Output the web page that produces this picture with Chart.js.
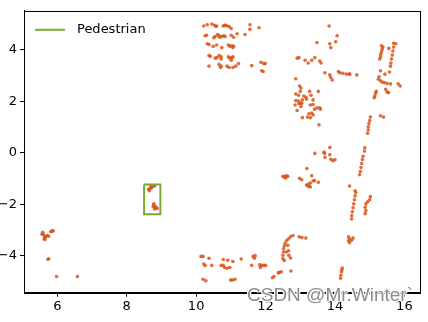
<!DOCTYPE html>
<html><head><meta charset="utf-8">
<script src="https://cdn.jsdelivr.net/npm/chart.js@4.4.1/dist/chart.umd.min.js"></script>
<style>
html,body{margin:0;padding:0;background:#fff;}
#wrap{position:relative;width:428px;height:322px;overflow:hidden;}
#wm{position:absolute;left:247px;top:284px;font:19px "Liberation Sans",Arial,sans-serif;color:#8c8c8c;white-space:nowrap;
text-shadow:-1px -1px 0 #fff,1px -1px 0 #fff,-1px 1px 0 #fff,1px 1px 0 #fff;}
</style></head>
<body><div id="wrap"><canvas id="c" width="428" height="322"></canvas><div id="wm">CSDN @Mr.Winter`</div></div>
<script>
// ---- data ----
const xTicks = [6, 8, 10, 12, 14, 16];
const yTicks = [-4, -2, 0, 2, 4];
const xRange = [5.04, 16.45];
const yRange = [-5.44, 5.51];

const leftCluster = [[5.58,-3.09],[5.60,-3.19],[5.64,-3.25],[5.67,-3.27],[5.71,-3.22],[5.75,-3.25],[5.64,-3.37],[5.62,-3.35],[5.81,-3.07],[5.85,-3.04],[5.88,-3.04],[5.56,-3.17],[5.75,-4.12],[5.73,-4.14],[5.98,-4.81],[6.58,-4.81]];

const pedestrianPts = [[8.63,-1.42],[8.69,-1.32],[8.75,-1.30],[8.65,-1.48],[8.71,-1.37],[8.80,-1.30],[8.67,-1.40],[8.78,-1.99],[8.76,-2.09],[8.82,-2.14],[8.88,-2.17],[8.80,-2.19],[8.78,-2.04],[8.84,-2.10]];

const topCluster = [[10.22,4.92],[10.32,4.97],[10.45,5.0],[10.53,4.95],[10.57,4.90],[10.59,4.92],[10.78,4.92],[10.82,4.95],[10.85,4.95],[10.89,4.92],[10.95,4.90],[11.55,4.97],[11.01,4.82],[11.55,4.79],[11.81,4.85],
[10.26,4.54],[10.30,4.56],[10.51,4.46],[10.55,4.51],[10.62,4.59],[10.66,4.54],[10.68,4.48],[10.74,4.51],[10.80,4.54],[10.83,4.51],[11.01,4.56],[11.08,4.48],[11.18,4.62],[11.41,4.59],
[10.32,4.23],[10.37,4.20],[10.49,4.13],[10.59,4.18],[10.74,4.08],[10.93,4.18],[10.97,4.13],[11.03,4.15],[11.06,4.08],[11.08,4.13],
[10.37,3.77],[10.41,3.74],[10.55,3.67],[10.60,3.69],[10.66,3.77],[10.72,3.72],[10.72,3.64],[10.93,3.72],[10.97,3.67],[11.03,3.69],[11.06,3.72],[11.01,3.59],
[10.37,3.36],[10.66,3.43],[10.72,3.36],[10.70,3.31],[10.89,3.36],[10.95,3.31],[11.06,3.31],[11.14,3.36],[11.22,3.46],[11.60,3.38],[11.87,3.51],[11.95,3.46],[11.99,3.46],[11.93,3.15],[11.89,3.18]];

const midCluster = [[13.83,4.92],[14.06,4.54],[14.02,4.31],[13.85,4.23],[13.88,4.08],[13.48,4.28],
[12.91,3.67],[12.96,3.69],[13.14,3.59],[13.23,3.48],[13.33,3.59],[13.42,3.69],[13.56,3.56],[13.60,3.48],
[13.71,3.10],[13.85,3.02],[13.88,2.92],[13.92,2.82],[14.10,3.15],[14.14,3.10],[14.23,3.08],[14.33,3.05],[14.42,3.05],[12.87,2.87],
[12.98,2.59],[13.02,2.51],[13.00,2.38],[12.87,2.28],[12.95,2.23],[13.10,2.20],[13.16,2.15],[13.27,2.38],[13.31,2.23],[13.52,2.38],
[13.06,2.05],[13.18,2.08],[13.37,2.05],[12.87,2.02],[12.95,2.0],[13.02,1.92],
[12.85,1.85],[12.96,1.90],[13.04,1.92],[13.02,1.79],[12.91,1.64],[13.29,1.85],[13.37,1.87],[13.41,1.69],[13.48,1.74],[13.58,1.69],[13.56,1.74],
[13.25,1.51],[13.33,1.54],[13.37,1.46],[13.29,1.36],[13.21,1.38],[13.06,1.36],[13.54,1.08],
[13.85,0.20],[13.68,0.02],[13.70,-0.03],[13.42,-0.03],[13.85,-0.08],[13.71,-0.18],[13.88,-0.26],[13.94,-0.31],[14.0,-0.28],
[12.50,-0.92],[12.54,-0.95],[12.60,-0.90],[12.64,-0.92],[12.58,-0.98],[12.56,-0.93],
[13.19,-0.62],[12.98,-1.0],[13.04,-1.05],[13.33,-0.90],[13.37,-1.10],[13.41,-1.08],[13.29,-1.18],[13.23,-1.23],[13.23,-1.31],[13.18,-1.26],[13.29,-1.33],[13.52,-1.15]];

const rightCluster = [[14.42,3.05],[14.63,3.02],
[15.34,4.15],[15.38,4.10],[15.36,4.02],[15.34,3.92],[15.32,3.82],[15.31,3.72],[15.29,3.64],[15.55,4.05],
[15.69,4.25],[15.75,4.23],[15.69,4.10],[15.67,3.95],[15.65,3.79],[15.63,3.64],[15.61,3.48],[15.60,3.36],
[15.31,3.18],[15.44,3.05],[15.57,3.13],
[15.27,2.95],[15.25,2.85],[15.31,2.79],[15.36,2.74],[15.42,2.72],[15.50,2.69],[15.60,2.67],[15.82,2.67],[15.88,2.59],
[15.46,2.46],[15.50,2.36],[15.54,2.33],[15.19,2.38],[15.17,2.31],[15.15,2.20],[15.13,2.13],
[15.31,1.43],[15.40,1.38],
[15.02,1.38],[15.0,1.25],[14.98,1.13],[14.96,1.0],[14.96,0.88],[14.94,0.75],
[14.86,0.19],[14.85,0.06],[14.81,-0.14],[14.79,-0.27],[14.77,-0.42],[14.75,-0.58],[14.73,-0.73],[14.71,-0.86],
[14.42,-1.30],[14.58,-1.48],[14.60,-1.55],[14.58,-1.68],[14.56,-1.83],[14.54,-1.99],[14.52,-2.14],[14.50,-2.30],[14.48,-2.45],[14.48,-2.58],
[15.02,-1.71],[15.0,-1.83],[14.94,-1.91],[14.89,-1.99],[14.87,-2.12],[14.89,-2.25],[14.87,-2.37],
[14.39,-3.27],[14.42,-3.35],[14.39,-3.42],[14.42,-3.50],[14.48,-3.40],[14.52,-3.32],
[14.21,-4.48],[14.19,-4.63],[14.17,-4.76],[14.16,-4.88],[14.20,-4.55]];

const bottomCluster = [[12.79,-3.22],[12.72,-3.27],[12.66,-3.35],[12.60,-3.42],[12.56,-3.53],[12.54,-3.63],[12.52,-3.73],[12.52,-3.86],[12.50,-3.99],[12.50,-4.12],[12.54,-4.19],[12.64,-3.60],[12.66,-3.81],[12.67,-3.99],[12.72,-4.09],[12.60,-3.86],
[12.97,-3.27],[13.05,-3.30],[13.16,-3.32],
[12.45,-4.63],[12.39,-4.65],[12.73,-4.60],[12.20,-4.86],[12.24,-4.81],
[10.14,-4.03],[10.20,-4.03],[10.37,-4.10],[10.22,-4.33],[10.26,-4.38],[10.45,-4.38],[10.20,-4.92],[10.28,-4.98],
[10.78,-4.15],[10.91,-4.18],[11.06,-4.23],[10.72,-4.38],[10.78,-4.38],[10.82,-4.46],[10.89,-4.49],[10.97,-4.46],
[10.99,-4.95],[11.05,-4.95],[11.12,-4.92],[11.30,-4.13],[11.64,-4.03],[11.70,-4.00],[11.68,-4.10],
[11.60,-4.38],[11.83,-4.36],[11.89,-4.38],[11.95,-4.38],[12.0,-4.38],[11.85,-4.46],[12.37,-4.67]];

const boxX = [8.50, 8.97, 8.97, 8.50, 8.50];
const boxY = [-1.24, -1.24, -2.39, -2.39, -1.24];
const boxLabel = 'Pedestrian';

// ---- build ----
const allPts = [].concat(leftCluster, pedestrianPts, topCluster, midCluster, rightCluster, bottomCluster)
  .map(p => ({x: p[0], y: p[1]}));
const boxPts = boxX.map((x, i) => ({x: x, y: boxY[i]}));
const GREEN = '#77AC30';
const FONT = {family: '"DejaVu Sans", sans-serif', size: 13};
const minus = v => String(v).replace('-', '\u2212');

const framePlugin = {
  id: 'frame',
  afterDatasetsDraw(chart) {
    const {ctx, chartArea: a} = chart;
    ctx.save();
    ctx.strokeStyle = '#000';
    ctx.lineWidth = 1;
    ctx.strokeRect(Math.round(a.left) + 0.5, Math.round(a.top) + 0.5, Math.round(a.right - a.left), Math.round(a.bottom - a.top));
    // legend
    const ds = chart.data.datasets[0];
    ctx.strokeStyle = ds.borderColor;
    ctx.lineWidth = 2;
    ctx.beginPath();
    ctx.moveTo(a.left + 11, a.top + 19);
    ctx.lineTo(a.left + 41, a.top + 19);
    ctx.stroke();
    ctx.fillStyle = '#000';
    ctx.font = '13px "DejaVu Sans", sans-serif';
    ctx.textBaseline = 'middle';
    ctx.textAlign = 'left';
    ctx.fillText(ds.label, a.left + 53, a.top + 19);
    ctx.restore();
  }
};

new Chart(document.getElementById('c'), {
  type: 'scatter',
  data: {
    datasets: [
      {label: boxLabel, data: boxPts, showLine: true, borderColor: GREEN, backgroundColor: GREEN,
       borderWidth: 2, pointRadius: 0, fill: false, order: 0, tension: 0},
      {label: 'points', data: allPts, backgroundColor: 'rgba(217,83,25,0.85)', borderWidth: 0,
       pointRadius: 1.8, order: 1}
    ]
  },
  options: {
    responsive: false, animation: false, devicePixelRatio: 1,
    layout: {padding: {top: 8, right: 8, left: 0, bottom: 0}},
    plugins: {legend: {display: false}, tooltip: {enabled: false}},
    scales: {
      x: {type: 'linear', position: 'bottom', min: xRange[0], max: xRange[1],
        afterFit(s) { s.height = 29.3; },
        afterBuildTicks(s) { s.ticks = xTicks.map(v => ({value: v})); },
        grid: {drawOnChartArea: false, drawTicks: true, tickLength: 4, color: '#000'},
        border: {display: true, color: '#000', width: 1},
        ticks: {color: '#000', font: FONT, padding: 2, maxRotation: 0, autoSkip: false, callback: v => minus(v)}},
      y: {type: 'linear', position: 'left', min: yRange[0], max: yRange[1],
        afterFit(s) { s.width = 24; },
        afterBuildTicks(s) { s.ticks = yTicks.map(v => ({value: v})); },
        grid: {drawOnChartArea: false, drawTicks: true, tickLength: 4, color: '#000'},
        border: {display: true, color: '#000', width: 1},
        ticks: {color: '#000', font: FONT, padding: 3, autoSkip: false, callback: v => minus(v)}}
    }
  },
  plugins: [framePlugin]
});
</script>
</body></html>
